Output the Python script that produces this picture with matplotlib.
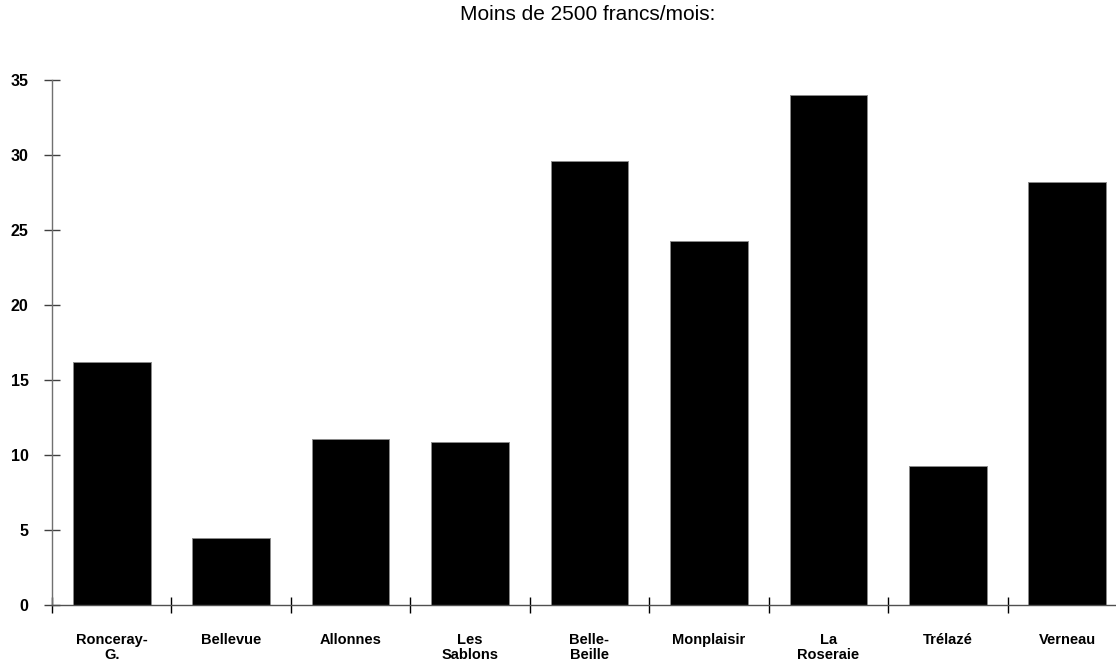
import numpy as np
import matplotlib
matplotlib.use('Agg')
import matplotlib.pyplot as plt

plt.rcParams['font.family'] = ['Liberation Sans', 'DejaVu Sans']

# data
quartiers = ['Ronceray-\nG.', 'Bellevue', 'Allonnes', 'Les\nSablons', 'Belle-\nBeille',
             'Monplaisir', 'La\nRoseraie', 'Trélazé', 'Verneau']
valeurs = [16.2, 4.45, 11.1, 10.85, 29.6, 24.25, 34.0, 9.3, 28.2]
yticks = [0, 5, 10, 15, 20, 25, 30, 35]
titre = 'Moins de 2500 francs/mois:'

fig = plt.figure(figsize=(11.16, 6.65), dpi=100)
ax = fig.add_axes([52 / 1116, 60 / 665, 1075 / 1116, 525 / 665])

x = np.arange(len(quartiers))
ax.bar(x, valeurs, width=0.65, color='black', edgecolor='#8a8a8a', linewidth=0.7)

ax.set_xlim(-0.5, len(quartiers) - 0.5)
ax.set_ylim(0, 35)

for s in ['top', 'right']:
    ax.spines[s].set_visible(False)
ax.spines['left'].set_color('#707070')
ax.spines['bottom'].set_color('#505050')
ax.spines['left'].set_linewidth(1.0)
ax.spines['bottom'].set_linewidth(1.0)

ax.set_yticks(yticks)
ax.set_yticklabels([str(v) for v in yticks], fontweight='bold', fontsize=11.5)
ax.tick_params(axis='y', direction='inout', length=11.5, width=1.0, color='#404040', pad=11)

ax.set_xticks(x)
ax.set_xticklabels(quartiers, fontweight='bold', fontsize=10.5, linespacing=1.15)
ax.set_xticks(np.arange(len(quartiers) + 1) - 0.5, minor=True)
ax.tick_params(axis='x', which='major', length=0, pad=20)
ax.tick_params(axis='x', which='minor', direction='inout', length=11, width=1.0, color='black')

fig.text(588 / 1116, 1 - 15 / 665, titre, ha='center', va='center', fontsize=15)

fig.savefig('out.png', dpi=100)
